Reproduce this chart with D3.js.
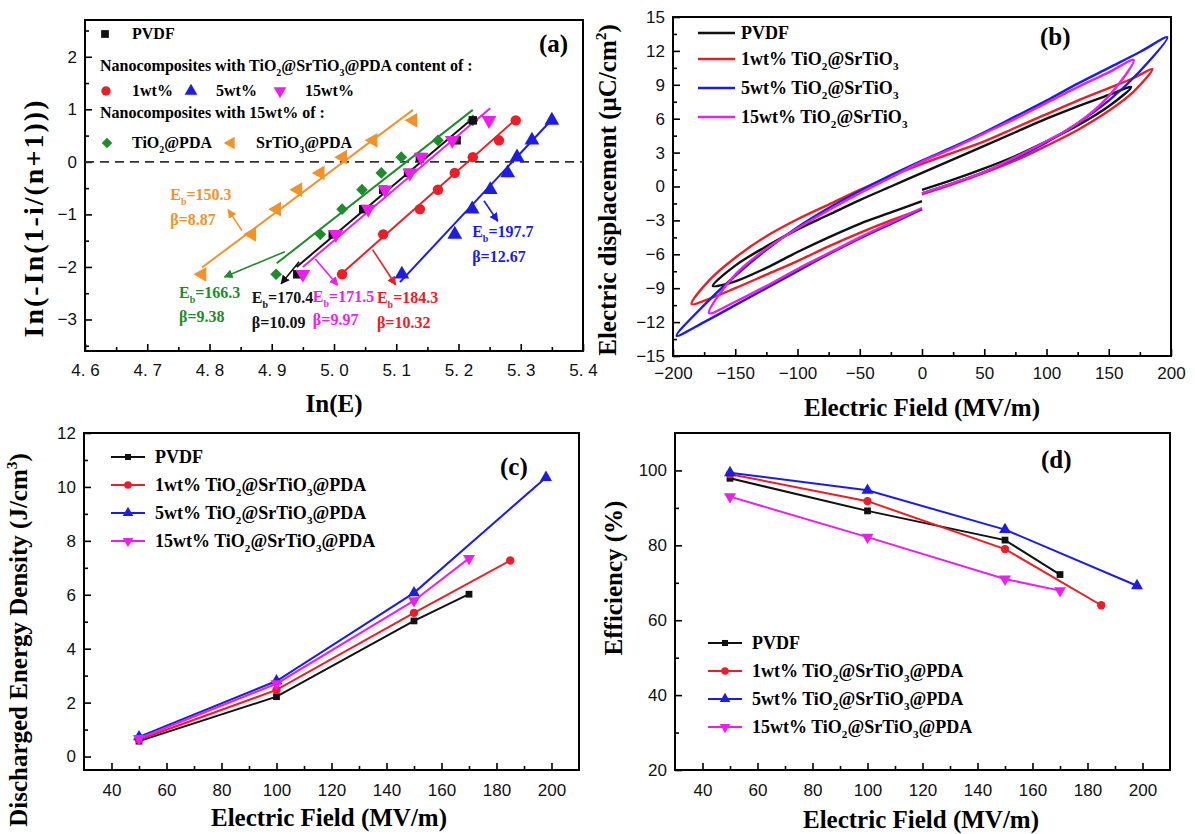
<!DOCTYPE html>
<html>
<head>
<meta charset="utf-8">
<script src="https://cdn.jsdelivr.net/npm/d3@7"></script>
<style>
  body { margin: 0; background: #fff; }
  svg { display: block; }
</style>
</head>
<body>
<div id="chart"></div>
<script>
// ---------- panel (a): Weibull plot ----------
const weibullY = [-2.14, -1.38, -0.90, -0.53, -0.21, 0.09, 0.41, 0.79];
const lnE_PVDF = [4.941, 4.998, 5.047, 5.079, 5.119, 5.138, 5.197, 5.223];
const lnE_1wt = [5.013, 5.079, 5.138, 5.167, 5.194, 5.223, 5.265, 5.292];
const lnE_5wt = [5.109, 5.194, 5.222, 5.251, 5.279, 5.294, 5.318, 5.350];
const lnE_15wt = [4.950, 5.003, 5.055, 5.082, 5.122, 5.140, 5.190, 5.249];
const lnE_TiO2 = [4.907, 4.978, 5.013, 5.045, 5.076, 5.108, 5.167, 5.223];
const lnE_SrTiO3 = [4.788, 4.868, 4.908, 4.942, 4.978, 5.014, 5.063, 5.127];

// fitted lines, [start, end] in (ln E, y)
const fitPVDF = [[4.940, -2.00], [5.223, 0.83]];
const fit1wt = [[5.013, -2.12], [5.294, 0.83]];
const fit5wt = [[5.106, -2.29], [5.352, 0.83]];
const fit15wt = [[4.950, -2.00], [5.251, 1.02]];
const fitTiO2 = [[4.908, -1.93], [5.223, 0.99]];
const fitSrTiO3 = [[4.788, -2.01], [5.127, 0.99]];

const ebValues = ["170.4", "184.3", "197.7", "171.5", "166.3", "150.3"];
const betaValues = ["10.09", "10.32", "12.67", "9.97", "9.38", "8.87"];

const xTicksA = [4.6, 4.7, 4.8, 4.9, 5.0, 5.1, 5.2, 5.3, 5.4];
const yTicksA = [-3, -2, -1, 0, 1, 2];

// ---------- panel (b): D-E loops, [E (MV/m), D (uC/cm2)] ----------
const loopPVDF = [
  [0, -0.3], [25, 0.6], [50, 1.6], [75, 2.7], [100, 4.0], [125, 5.4], [150, 7.1], [168, 8.8],
  [150, 8.1], [125, 7.1], [100, 6.0], [75, 4.8], [50, 3.6], [25, 2.4], [0, 1.2],
  [-25, 0.0], [-50, -1.2], [-75, -2.5], [-100, -3.8], [-125, -5.3], [-150, -7.0], [-168, -8.8],
  [-160, -8.7], [-150, -8.4], [-125, -7.2], [-100, -5.8], [-75, -4.5], [-50, -3.3], [-25, -2.3], [0, -1.3]
];
const loop1wt = [
  [0, -0.7], [25, 0.2], [50, 1.2], [75, 2.3], [100, 3.6], [125, 5.0], [150, 6.7], [170, 8.4], [185, 10.4],
  [170, 9.6], [150, 8.7], [125, 7.6], [100, 6.4], [75, 5.2], [50, 4.0], [25, 3.0], [0, 2.0],
  [-25, 0.9], [-50, -0.3], [-75, -1.6], [-100, -2.9], [-125, -4.4], [-150, -6.3], [-170, -8.2], [-185, -10.4],
  [-170, -9.9], [-150, -9.0], [-125, -7.8], [-100, -6.6], [-75, -5.3], [-50, -4.1], [-25, -3.0], [0, -2.0]
];
const loop5wt = [
  [0, -0.6], [25, 0.3], [50, 1.3], [75, 2.5], [100, 3.9], [125, 5.6], [150, 7.6], [175, 10.2], [197, 13.2],
  [175, 11.9], [150, 10.5], [125, 9.1], [100, 7.6], [75, 6.2], [50, 4.8], [25, 3.5], [0, 2.3],
  [-25, 1.0], [-50, -0.4], [-75, -1.9], [-100, -3.6], [-125, -5.6], [-150, -7.9], [-175, -10.5], [-197, -13.2],
  [-175, -12.0], [-150, -10.5], [-125, -9.0], [-100, -7.5], [-75, -6.0], [-50, -4.6], [-25, -3.3], [0, -2.0]
];
const loop15wt = [
  [0, -0.6], [25, 0.3], [50, 1.3], [75, 2.6], [100, 4.0], [125, 5.6], [150, 8.0], [170, 11.2],
  [150, 10.1], [125, 8.8], [100, 7.4], [75, 6.0], [50, 4.7], [25, 3.4], [0, 2.2],
  [-25, 0.8], [-50, -0.6], [-75, -2.1], [-100, -3.7], [-125, -5.5], [-150, -7.8], [-171, -11.2],
  [-150, -10.2], [-125, -8.8], [-100, -7.3], [-75, -5.9], [-50, -4.5], [-25, -3.2], [0, -1.9]
];
const xTicksB = [-200, -150, -100, -50, 0, 50, 100, 150, 200];
const yTicksB = [-15, -12, -9, -6, -3, 0, 3, 6, 9, 12, 15];

// ---------- panels (c) and (d) ----------
const fieldPVDF = [50, 100, 150, 170];
const field1wt = [50, 100, 150, 185];
const field5wt = [50, 100, 150, 198];
const field15wt = [50, 100, 150, 170];

const energyPVDF = [0.57, 2.22, 5.03, 6.02];
const energy1wt = [0.62, 2.47, 5.33, 7.27];
const energy5wt = [0.73, 2.80, 6.07, 10.35];
const energy15wt = [0.67, 2.70, 5.78, 7.35];

const effPVDF = [97.9, 89.2, 81.4, 72.2];
const eff1wt = [99.0, 91.8, 79.0, 64.0];
const eff5wt = [99.4, 94.7, 84.2, 69.2];
const eff15wt = [93.0, 82.2, 71.0, 67.9];

const xTicksCD = [40, 60, 80, 100, 120, 140, 160, 180, 200];
const yTicksC = [0, 2, 4, 6, 8, 10, 12];
const yTicksD = [20, 40, 60, 80, 100];

// ---------- setup ----------
const width = 1195, height = 834;
const SERIF = "'Liberation Serif','Times New Roman',Times,serif";
const SANS = "'Liberation Sans',Arial,Helvetica,sans-serif";
const col = {
  pvdf: "#111111", w1: "#ee1c24", w5: "#1c1ce8", w15: "#ee1cee",
  tio2: "#1e8c2a", srtio3: "#f4922a"
};

const svg = d3.select("#chart").append("svg")
  .attr("width", width).attr("height", height)
  .style("background", "#fff");

const defs = svg.append("defs");
Object.entries(col).forEach(([k, c]) => {
  defs.append("marker")
    .attr("id", "arr-" + k)
    .attr("viewBox", "0 0 10 10")
    .attr("refX", 9).attr("refY", 5)
    .attr("markerWidth", 9).attr("markerHeight", 9)
    .attr("markerUnits", "userSpaceOnUse")
    .attr("orient", "auto")
    .append("path").attr("d", "M0,0 L10,5 L0,10 z").attr("fill", c);
});

// text with sub / superscripts: parts are strings or ["sub"|"sup", str]
function rich(text, parts, fs) {
  let shift = 0;
  parts.forEach(p => {
    let str = p, target = 0, size = fs;
    if (Array.isArray(p)) {
      str = p[1];
      target = p[0] === "sub" ? fs * 0.3 : -fs * 0.42;
      size = fs * 0.62;
    }
    text.append("tspan").attr("dy", target - shift).attr("font-size", size).text(str);
    shift = target;
  });
  return text;
}

const rotation = { square: 0, circle: 0, up: 0, down: 180, left: -90, diamond: 45 };
function symbolPath(shape, size) {
  const type = shape === "circle" ? d3.symbolCircle
    : (shape === "square" || shape === "diamond") ? d3.symbolSquare
    : d3.symbolTriangle;
  return d3.symbol().type(type).size(size)();
}

function drawAxes(box, x, y, cfg) {
  const g = svg.append("g");
  const bx = g.append("g").attr("transform", `translate(0,${box.bottom})`);
  bx.append("g").call(d3.axisBottom(x).tickValues(cfg.xMinor).tickSize(-4).tickFormat(""));
  bx.append("g").call(d3.axisBottom(x).tickValues(cfg.xTicks).tickSize(-7)
    .tickPadding(cfg.xPad).tickFormat(cfg.xFmt));
  const ly = g.append("g").attr("transform", `translate(${box.left},0)`);
  ly.append("g").call(d3.axisLeft(y).tickValues(cfg.yMinor).tickSize(-4).tickFormat(""));
  ly.append("g").call(d3.axisLeft(y).tickValues(cfg.yTicks).tickSize(-7)
    .tickPadding(8).tickFormat(cfg.yFmt));
  g.selectAll(".domain").remove();
  g.selectAll(".tick line").attr("stroke", "#000").attr("stroke-width", 1.6);
  g.selectAll(".tick text").attr("font-family", SANS).attr("font-size", 17).attr("fill", "#111");
  g.append("rect")
    .attr("x", box.left).attr("y", box.top)
    .attr("width", box.right - box.left).attr("height", box.bottom - box.top)
    .attr("fill", "none").attr("stroke", "#000").attr("stroke-width", 2);
  return g;
}

function axisTitleX(parts, cx, baseline) {
  rich(svg.append("text").attr("x", cx).attr("y", baseline).attr("text-anchor", "middle")
    .attr("font-family", SERIF).attr("font-weight", "bold").attr("font-size", 25), parts, 25);
}
function axisTitleY(parts, baselineX, cy, fs, len) {
  const t = svg.append("text").attr("transform", `translate(${baselineX},${cy}) rotate(-90)`)
    .attr("text-anchor", "middle")
    .attr("font-family", SERIF).attr("font-weight", "bold").attr("font-size", fs);
  if (len) t.attr("textLength", len).attr("lengthAdjust", "spacing");
  rich(t, parts, fs);
}
function panelTag(label, x, y) {
  svg.append("text").attr("x", x).attr("y", y)
    .attr("font-family", SERIF).attr("font-weight", "bold").attr("font-size", 25).text(label);
}

// ================= (a) =================
const boxA = { left: 85, right: 583, top: 20, bottom: 351 };
const xA = d3.scaleLinear().domain([4.6, 5.4]).range([boxA.left, boxA.right]);
const yA = d3.scaleLinear().domain([-3.6, 2.7]).range([boxA.bottom, boxA.top]);

drawAxes(boxA, xA, yA, {
  xTicks: xTicksA, xMinor: d3.range(4.65, 5.4, 0.1), xPad: 13,
  xFmt: d => d.toFixed(1).replace(".", ". "),
  yTicks: yTicksA, yMinor: [-3.5, -2.5, -1.5, -0.5, 0.5, 1.5, 2.5],
  yFmt: d3.format("d")
});

const gA = svg.append("g");
gA.append("line")
  .attr("x1", xA(4.6)).attr("x2", xA(5.4)).attr("y1", yA(0)).attr("y2", yA(0))
  .attr("stroke", "#333").attr("stroke-width", 1.6).attr("stroke-dasharray", "9,6");

const seriesA = [
  { key: "srtio3", lnE: lnE_SrTiO3, fit: fitSrTiO3, shape: "left", size: 95 },
  { key: "tio2", lnE: lnE_TiO2, fit: fitTiO2, shape: "diamond", size: 68 },
  { key: "pvdf", lnE: lnE_PVDF, fit: fitPVDF, shape: "square", size: 72 },
  { key: "w15", lnE: lnE_15wt, fit: fit15wt, shape: "down", size: 95 },
  { key: "w1", lnE: lnE_1wt, fit: fit1wt, shape: "circle", size: 85 },
  { key: "w5", lnE: lnE_5wt, fit: fit5wt, shape: "up", size: 95 }
];

seriesA.forEach(s => {
  gA.append("line")
    .attr("x1", xA(s.fit[0][0])).attr("y1", yA(s.fit[0][1]))
    .attr("x2", xA(s.fit[1][0])).attr("y2", yA(s.fit[1][1]))
    .attr("stroke", col[s.key]).attr("stroke-width", 2);
});
seriesA.forEach(s => {
  gA.append("g").selectAll("path")
    .data(s.lnE.map((v, i) => [v, weibullY[i]]))
    .join("path")
    .attr("d", symbolPath(s.shape, s.size))
    .attr("transform", d => `translate(${xA(d[0])},${yA(d[1])}) rotate(${rotation[s.shape]})`)
    .attr("fill", col[s.key]);
});

// annotations: text anchor (ln E, y of Eb line, y of beta line) and arrow (from -> to)
const annA = [
  { key: "pvdf", i: 0, x: 4.868, y1: -2.69, y2: -3.16, from: [4.944, -1.90], to: [4.915, -2.32] },
  { key: "w1", i: 1, x: 5.069, y1: -2.69, y2: -3.16, from: [5.062, -1.67], to: [5.099, -2.34] },
  { key: "w5", i: 2, x: 5.222, y1: -1.43, y2: -1.90, from: [5.241, -0.74], to: [5.263, -1.13] },
  { key: "w15", i: 3, x: 4.966, y1: -2.67, y2: -3.10, from: [4.970, -1.85], to: [5.006, -2.35] },
  { key: "tio2", i: 4, x: 4.751, y1: -2.59, y2: -3.05, from: [4.921, -1.71], to: [4.824, -2.19] },
  { key: "srtio3", i: 5, x: 4.737, y1: -0.725, y2: -1.20, from: [4.852, -1.31], to: [4.830, -0.91] }
];
annA.forEach(a => {
  gA.append("line")
    .attr("x1", xA(a.from[0])).attr("y1", yA(a.from[1]))
    .attr("x2", xA(a.to[0])).attr("y2", yA(a.to[1]))
    .attr("stroke", col[a.key]).attr("stroke-width", 1.6)
    .attr("marker-end", `url(#arr-${a.key})`);
  const t1 = gA.append("text").attr("x", xA(a.x)).attr("y", yA(a.y1))
    .attr("font-family", SERIF).attr("font-weight", "bold").attr("font-size", 16).attr("fill", col[a.key]);
  rich(t1, ["E", ["sub", "b"], "=" + ebValues[a.i]], 16);
  gA.append("text").attr("x", xA(a.x)).attr("y", yA(a.y2))
    .attr("font-family", SERIF).attr("font-weight", "bold").attr("font-size", 16).attr("fill", col[a.key])
    .text("\u03b2=" + betaValues[a.i]);
});

// legend (a)
const legA = svg.append("g").attr("font-family", SERIF).attr("font-weight", "bold").attr("font-size", 16);
function legMarkA(key, shape, size, cx, cy, parts, tx) {
  legA.append("path").attr("d", symbolPath(shape, size))
    .attr("transform", `translate(${cx},${cy}) rotate(${rotation[shape]})`).attr("fill", col[key]);
  rich(legA.append("text").attr("x", tx).attr("y", cy + 5), parts, 16);
}
legMarkA("pvdf", "square", 60, 105, 34, ["PVDF"], 132);
rich(legA.append("text").attr("x", 100).attr("y", 71),
  ["Nanocomposites with TiO", ["sub", "2"], "@SrTiO", ["sub", "3"], "@PDA content of :"], 16);
legMarkA("w1", "circle", 70, 106, 91, ["1wt%"], 132);
legMarkA("w5", "up", 70, 191, 91, ["5wt%"], 216);
legMarkA("w15", "down", 70, 280, 91, ["15wt%"], 305);
rich(legA.append("text").attr("x", 100).attr("y", 118), ["Nanocomposites with 15wt% of :"], 16);
legMarkA("tio2", "diamond", 55, 107, 143, ["TiO", ["sub", "2"], "@PDA"], 132);
legMarkA("srtio3", "left", 70, 231, 143, ["SrTiO", ["sub", "3"], "@PDA"], 256);

panelTag("(a)", 539, 52);
axisTitleX(["In(E)"], (boxA.left + boxA.right) / 2, 412);
axisTitleY(["In(-In(1-i/(n+1)))"], 43, 219, 28, 237);

// ================= (b) =================
const boxB = { left: 673, right: 1171, top: 17, bottom: 356 };
const xB = d3.scaleLinear().domain([-200, 200]).range([boxB.left, boxB.right]);
const yB = d3.scaleLinear().domain([-15, 15]).range([boxB.bottom, boxB.top]);

drawAxes(boxB, xB, yB, {
  xTicks: xTicksB, xMinor: d3.range(-175, 200, 50), xPad: 11, xFmt: d3.format("d"),
  yTicks: yTicksB, yMinor: d3.range(-13.5, 15, 3), yFmt: d3.format("d")
});

const lineB = d3.line().x(d => xB(d[0])).y(d => yB(d[1])).curve(d3.curveCatmullRom.alpha(0.5));
const loopsB = [
  { key: "w1", data: loop1wt },
  { key: "pvdf", data: loopPVDF },
  { key: "w5", data: loop5wt },
  { key: "w15", data: loop15wt }
];
svg.append("g").selectAll("path").data(loopsB).join("path")
  .attr("d", d => lineB(d.data))
  .attr("fill", "none").attr("stroke", d => col[d.key]).attr("stroke-width", 2.4)
  .attr("stroke-linejoin", "round");

const legB = svg.append("g").attr("font-family", SERIF).attr("font-weight", "bold").attr("font-size", 18);
[
  { key: "pvdf", parts: ["PVDF"], y: 33 },
  { key: "w1", parts: ["1wt% TiO", ["sub", "2"], "@SrTiO", ["sub", "3"]], y: 59 },
  { key: "w5", parts: ["5wt% TiO", ["sub", "2"], "@SrTiO", ["sub", "3"]], y: 88 },
  { key: "w15", parts: ["15wt% TiO", ["sub", "2"], "@SrTiO", ["sub", "3"]], y: 117 }
].forEach(e => {
  legB.append("line").attr("x1", 698).attr("x2", 735).attr("y1", e.y).attr("y2", e.y)
    .attr("stroke", col[e.key]).attr("stroke-width", 2.4);
  rich(legB.append("text").attr("x", 741).attr("y", e.y + 6), e.parts, 18);
});
panelTag("(b)", 1040, 45);
axisTitleX(["Electric Field (MV/m)"], (boxB.left + boxB.right) / 2, 416);
axisTitleY(["Electric displacement (\u03bcC/cm", ["sup", "2"], ")"], 616, 190, 25);

// ================= (c) & (d) =================
const seriesCD = [
  { key: "pvdf", shape: "square", field: fieldPVDF, energy: energyPVDF, eff: effPVDF,
    label: ["PVDF"] },
  { key: "w1", shape: "circle", field: field1wt, energy: energy1wt, eff: eff1wt,
    label: ["1wt% TiO", ["sub", "2"], "@SrTiO", ["sub", "3"], "@PDA"] },
  { key: "w5", shape: "up", field: field5wt, energy: energy5wt, eff: eff5wt,
    label: ["5wt% TiO", ["sub", "2"], "@SrTiO", ["sub", "3"], "@PDA"] },
  { key: "w15", shape: "down", field: field15wt, energy: energy15wt, eff: eff15wt,
    label: ["15wt% TiO", ["sub", "2"], "@SrTiO", ["sub", "3"], "@PDA"] }
];
const markSize = { square: 46, circle: 55, up: 62, down: 62 };

function linePanel(box, y, valueKey, legendX, legendYs) {
  const x = d3.scaleLinear().domain([30, 210]).range([box.left, box.right]);
  const line = d3.line().x(d => x(d[0])).y(d => y(d[1]));
  const g = svg.append("g");
  seriesCD.forEach(s => {
    const pts = s.field.map((f, i) => [f, s[valueKey][i]]);
    g.append("path").attr("d", line(pts)).attr("fill", "none")
      .attr("stroke", col[s.key]).attr("stroke-width", 2);
    g.append("g").selectAll("path").data(pts).join("path")
      .attr("d", symbolPath(s.shape, markSize[s.shape]))
      .attr("transform", d => `translate(${x(d[0])},${y(d[1])}) rotate(${rotation[s.shape]})`)
      .attr("fill", col[s.key]);
  });
  const leg = svg.append("g").attr("font-family", SERIF).attr("font-weight", "bold").attr("font-size", 18);
  seriesCD.forEach((s, i) => {
    const ly = legendYs[i];
    leg.append("line").attr("x1", legendX).attr("x2", legendX + 34).attr("y1", ly).attr("y2", ly)
      .attr("stroke", col[s.key]).attr("stroke-width", 2);
    leg.append("path").attr("d", symbolPath(s.shape, markSize[s.shape] * 0.8))
      .attr("transform", `translate(${legendX + 17},${ly}) rotate(${rotation[s.shape]})`)
      .attr("fill", col[s.key]);
    rich(leg.append("text").attr("x", legendX + 44).attr("y", ly + 6), s.label, 18);
  });
  return x;
}

const boxC = { left: 84, right: 579, top: 433, bottom: 770 };
const yC = d3.scaleLinear().domain([-0.5, 12]).range([boxC.bottom, boxC.top]);
const xC = linePanel(boxC, yC, "energy", 111, [457, 485, 513, 541]);
drawAxes(boxC, xC, yC, {
  xTicks: xTicksCD, xMinor: d3.range(50, 200, 20), xPad: 14, xFmt: d3.format("d"),
  yTicks: yTicksC, yMinor: d3.range(1, 12, 2), yFmt: d3.format("d")
});
panelTag("(c)", 500, 475);
axisTitleX(["Electric Field (MV/m)"], 329, 826);
axisTitleY(["Discharged Energy Density (J/cm", ["sup", "3"], ")"], 27, 640, 25);

const boxD = { left: 675, right: 1170, top: 433, bottom: 770 };
const yD = d3.scaleLinear().domain([20, 110]).range([boxD.bottom, boxD.top]);
const xD = linePanel(boxD, yD, "eff", 708, [643, 671, 699, 727]);
drawAxes(boxD, xD, yD, {
  xTicks: xTicksCD, xMinor: d3.range(50, 200, 20), xPad: 14, xFmt: d3.format("d"),
  yTicks: yTicksD, yMinor: d3.range(30, 100, 20), yFmt: d3.format("d")
});
panelTag("(d)", 1041, 468);
axisTitleX(["Electric Field (MV/m)"], 921, 828);
axisTitleY(["Efficiency (%)"], 622, 578, 25);
</script>
</body>
</html>
